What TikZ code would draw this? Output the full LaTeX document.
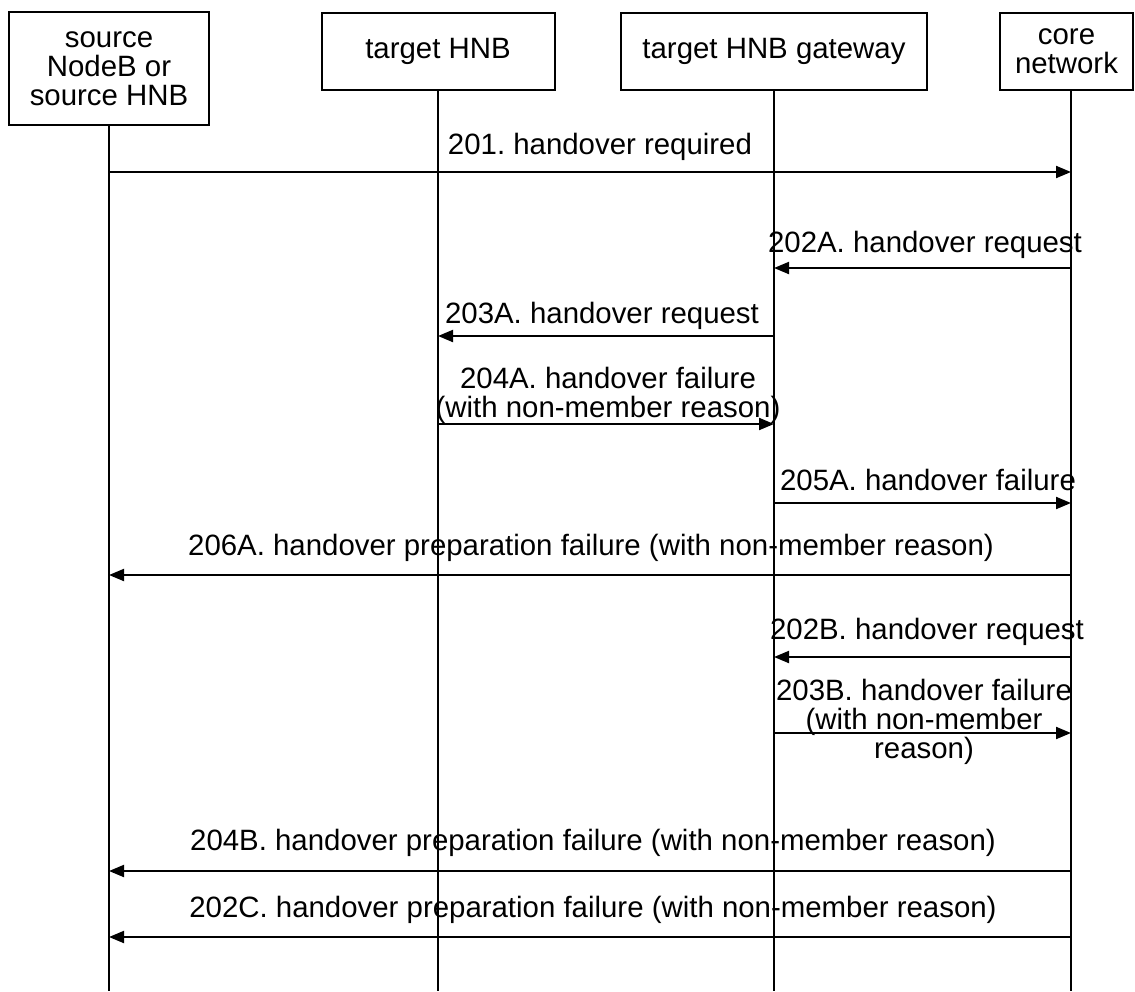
\documentclass[tikz,border=0pt]{standalone}
\usepackage{fontspec}
\setmainfont{Liberation Sans}
\usetikzlibrary{arrows.meta}
\frenchspacing
\tikzset{
  entity/.style={draw, line width=1pt, align=center, inner sep=0pt, font=\fontsize{14.7}{14.5}\selectfont},
  lifeline/.style={line width=1pt},
  msg/.style={line width=1pt, -{Triangle[length=7.5pt,width=6pt]}},
  msglabel/.style={align=center, inner sep=0pt, font=\fontsize{14.7}{14.5}\selectfont},
}
\begin{document}
\begin{tikzpicture}[x=0.5pt,y=-0.5pt]
\useasboundingbox (0,0) rectangle (1135,991);

% Drawing entity boxes
\node[entity, minimum width=100pt, minimum height=56.5pt] (src) at (109,68.5) {source\\NodeB or\\source HNB};
\node[entity, minimum width=116.5pt, minimum height=38.5pt] (thnb) at (438,51.5) {target HNB};
\node[entity, minimum width=153pt, minimum height=38.5pt] (gw) at (774,51.5) {target HNB gateway};
\node[entity, minimum width=66.5pt, minimum height=38.5pt] (cn) at (1066.5,51.5) {core\\network};

% Drawing lifelines
\coordinate (srcend) at (109,991);
\coordinate (thnbend) at (438,991);
\coordinate (gwend) at (774,991);
\coordinate (cntop) at (1071,90);
\coordinate (cnend) at (1071,991);
\draw [lifeline] (src.south) -- (srcend);
\draw [lifeline] (thnb.south) -- (thnbend);
\draw [lifeline] (gw.south) -- (gwend);
\draw [lifeline] (cntop) -- (cnend);

% Message rows
\coordinate (r201) at (0,172);
\coordinate (r202A) at (0,268);
\coordinate (r203A) at (0,336);
\coordinate (r204A) at (0,424);
\coordinate (r205A) at (0,503);
\coordinate (r206A) at (0,575);
\coordinate (r202B) at (0,657);
\coordinate (r203B) at (0,733);
\coordinate (r204B) at (0,871);
\coordinate (r202C) at (0,937);

% Drawing message 201
\draw [msg] (srcend |- r201) -- (cnend |- r201);
\node[msglabel] (l201) at (600,147) {201. handover required};

% Drawing message 202A
\draw [msg] (cnend |- r202A) -- (gwend |- r202A);
\node[msglabel] (l202A) at (925,245) {202A. handover request};

% Drawing message 203A
\draw [msg] (gwend |- r203A) -- (thnbend |- r203A);
\node[msglabel] (l203A) at (602,316) {203A. handover request};

% Drawing message 204A
\draw [msg] (thnbend |- r204A) -- (gwend |- r204A);
\node[msglabel] (l204A) at (608,395) {204A. handover failure\\(with non-member reason)};

% Drawing message 205A
\draw [msg] (gwend |- r205A) -- (cnend |- r205A);
\node[msglabel] (l205A) at (928,480) {205A. handover failure};

% Drawing message 206A
\draw [msg] (cnend |- r206A) -- (srcend |- r206A);
\node[msglabel] (l206A) at (591,548) {206A. handover preparation failure (with non-member reason)};

% Drawing message 202B
\draw [msg] (cnend |- r202B) -- (gwend |- r202B);
\node[msglabel] (l202B) at (927,632) {202B. handover request};

% Drawing message 203B
\draw [msg] (gwend |- r203B) -- (cnend |- r203B);
\node[msglabel] (l203B) at (924,722) {203B. handover failure\\(with non-member\\reason)};

% Drawing message 204B
\draw [msg] (cnend |- r204B) -- (srcend |- r204B);
\node[msglabel] (l204B) at (593,843) {204B. handover preparation failure (with non-member reason)};

% Drawing message 202C
\draw [msg] (cnend |- r202C) -- (srcend |- r202C);
\node[msglabel] (l202C) at (593,910) {202C. handover preparation failure (with non-member reason)};
\end{tikzpicture}
\end{document}
